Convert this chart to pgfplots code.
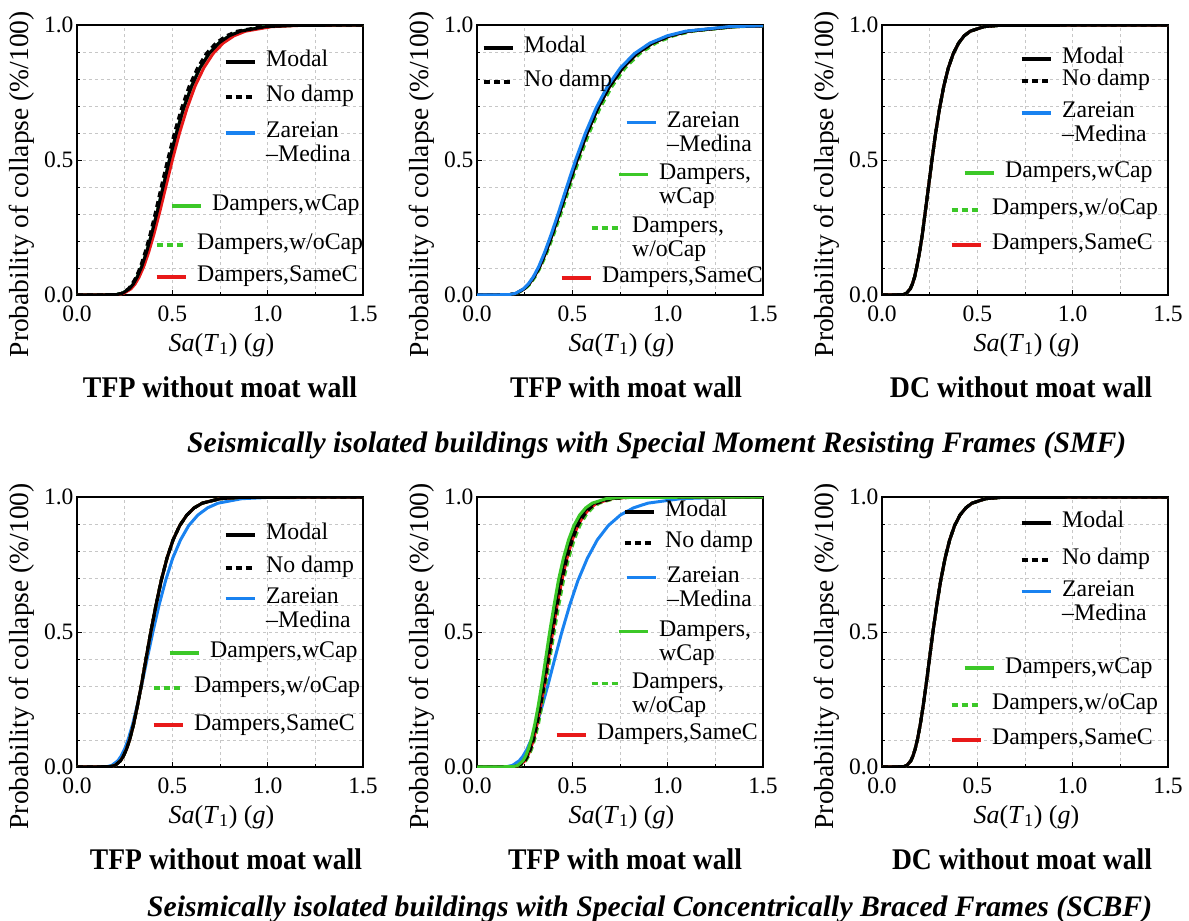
\documentclass[border=0pt]{standalone}
\usepackage{pgfplots}
\pgfplotsset{compat=1.18}
\usepackage{pgfplotstable}
\usepackage{graphicx}
\usepackage{fontspec}
\setmainfont{Liberation Serif}

\definecolor{zblue}{RGB}{25,130,240}
\definecolor{dgreen}{RGB}{60,200,40}
\definecolor{dred}{RGB}{232,25,25}

% Panel 1 (SMF, TFP without moat wall): a = Modal/ZM/wCap/woCap, b = No damp, c = SameC
\pgfplotstableread{
P a b c
0 0 0 0
0.0013 0.206 0.202 0.213
0.0062 0.238 0.233 0.245
0.0228 0.274 0.269 0.283
0.0401 0.295 0.288 0.304
0.0668 0.316 0.310 0.326
0.1056 0.340 0.333 0.350
0.1587 0.365 0.357 0.376
0.2266 0.392 0.384 0.404
0.3085 0.421 0.412 0.434
0.4013 0.452 0.442 0.466
0.5 0.485 0.475 0.500
0.5987 0.521 0.510 0.537
0.6915 0.559 0.548 0.577
0.7734 0.601 0.588 0.619
0.8413 0.645 0.632 0.665
0.8944 0.693 0.678 0.714
0.9332 0.744 0.728 0.767
0.9599 0.799 0.782 0.823
0.9772 0.858 0.840 0.884
0.9938 0.989 0.969 1.020
0.9987 1.140 1.117 1.176
1 1.7 1.7 1.7
}\tabA
% Panel 2 (SMF, TFP with moat wall): a = Modal/NoDamp/wCap/SameC, b = ZM, c = woCap
\pgfplotstableread{
P a b c
0 0 0 0
0.0013 0.170 0.168 0.174
0.0062 0.206 0.202 0.210
0.0228 0.248 0.244 0.253
0.0401 0.272 0.268 0.278
0.0668 0.299 0.295 0.305
0.1056 0.329 0.324 0.335
0.1587 0.361 0.355 0.368
0.2266 0.396 0.390 0.404
0.3085 0.435 0.429 0.444
0.4013 0.478 0.471 0.487
0.5 0.525 0.517 0.535
0.5987 0.577 0.568 0.588
0.6915 0.633 0.624 0.645
0.7734 0.696 0.685 0.709
0.8413 0.764 0.752 0.778
0.8944 0.839 0.826 0.855
0.9332 0.921 0.907 0.939
0.9599 1.012 0.997 1.031
0.9772 1.111 1.094 1.133
0.9938 1.341 1.320 1.366
0.9987 1.617 1.592 1.648
1 1.7 1.7 1.7
}\tabB
% Panel 3 (SMF, DC)
\pgfplotstableread{
P a
0 0
0.0013 0.111
0.0062 0.128
0.0228 0.148
0.0401 0.159
0.0668 0.171
0.1056 0.183
0.1587 0.197
0.2266 0.212
0.3085 0.227
0.4013 0.244
0.5 0.262
0.5987 0.281
0.6915 0.302
0.7734 0.324
0.8413 0.348
0.8944 0.374
0.9332 0.402
0.9599 0.431
0.9772 0.463
0.9938 0.534
0.9987 0.616
1 1.7
}\tabC
% Panel 4 (SCBF, TFP without moat wall): a = Modal etc., b = ZM
\pgfplotstableread{
P a b
0 0 0
0.0013 0.175 0.157
0.0062 0.200 0.183
0.0228 0.228 0.214
0.0401 0.243 0.231
0.0668 0.260 0.250
0.1056 0.278 0.270
0.1587 0.297 0.292
0.2266 0.317 0.315
0.3085 0.339 0.341
0.4013 0.362 0.368
0.5 0.387 0.398
0.5987 0.414 0.430
0.6915 0.442 0.465
0.7734 0.472 0.502
0.8413 0.504 0.543
0.8944 0.539 0.586
0.9332 0.576 0.634
0.9599 0.615 0.685
0.9772 0.657 0.740
0.9938 0.751 0.864
0.9987 0.857 1.009
1 1.7 1.7
}\tabD
% Panel 5 (SCBF, TFP with moat wall): a = wCap, b = Modal, c = NoDamp/SameC, d = woCap, e = ZM
\pgfplotstableread{
P a b c d e
0 0 0 0 0 0
0.0013 0.191 0.194 0.199 0.203 0.156
0.0062 0.214 0.218 0.223 0.228 0.186
0.0228 0.241 0.244 0.251 0.256 0.221
0.0401 0.255 0.259 0.265 0.271 0.241
0.0668 0.270 0.274 0.281 0.287 0.263
0.1056 0.286 0.290 0.298 0.304 0.287
0.1587 0.303 0.307 0.315 0.322 0.314
0.2266 0.321 0.326 0.334 0.341 0.342
0.3085 0.340 0.345 0.354 0.361 0.374
0.4013 0.360 0.365 0.375 0.382 0.408
0.5 0.381 0.387 0.397 0.405 0.445
0.5987 0.404 0.410 0.420 0.429 0.486
0.6915 0.427 0.434 0.445 0.454 0.530
0.7734 0.453 0.460 0.472 0.481 0.579
0.8413 0.480 0.487 0.500 0.510 0.631
0.8944 0.508 0.516 0.529 0.540 0.689
0.9332 0.538 0.546 0.561 0.572 0.752
0.9599 0.570 0.579 0.594 0.606 0.821
0.9772 0.604 0.613 0.629 0.642 0.896
0.9938 0.677 0.688 0.706 0.720 1.068
0.9987 0.760 0.772 0.792 0.807 1.272
1 1.7 1.7 1.7 1.7 1.7
}\tabE
% Panel 6 (SCBF, DC)
\pgfplotstableread{
P a
0 0
0.0013 0.114
0.0062 0.131
0.0228 0.151
0.0401 0.162
0.0668 0.174
0.1056 0.187
0.1587 0.201
0.2266 0.216
0.3085 0.232
0.4013 0.249
0.5 0.267
0.5987 0.287
0.6915 0.308
0.7734 0.331
0.8413 0.355
0.8944 0.381
0.9332 0.409
0.9599 0.440
0.9772 0.472
0.9938 0.544
0.9987 0.628
1 1.7
}\tabF

\pgfplotsset{
  cmodal/.style={black, line width=3pt, line join=round},
  cnod/.style={black, line width=3pt, dash pattern=on 6pt off 4pt},
  czar/.style={zblue, line width=3pt, line join=round},
  cwcap/.style={dgreen, line width=3pt, line join=round},
  cwocap/.style={dgreen, line width=3pt, dash pattern=on 6pt off 4pt},
  csame/.style={dred, line width=3pt, line join=round},
  panel/.style={
    scale only axis, width=286pt, height=270pt,
    xmin=0, xmax=1.5, ymin=0, ymax=1,
    xtick={0,0.5,1,1.5}, ytick={0,0.5,1},
    minor xtick={0.25,0.75,1.25},
    minor ytick={0.1,0.2,0.3,0.4,0.6,0.7,0.8,0.9},
    grid=both,
    major grid style={dashed, black!22, line width=0.6pt},
    minor grid style={dashed, black!22, line width=0.6pt},
    xtick pos=left, ytick pos=left, tick align=inside,
    major tick length=5pt, minor tick length=3pt,
    tick style={black, line width=0.8pt},
    axis line style={line width=1.3pt},
    /pgf/number format/assume math mode=true,
    /pgf/number format/fixed,
    /pgf/number format/fixed zerofill,
    /pgf/number format/precision=1,
    tick label style={font=\fontsize{23.5}{26}\selectfont, inner ysep=0pt},
    xticklabel style={yshift=-11pt},
    ylabel={Probability of collapse (\%/100)},
    xlabel={\textit{Sa}(\textit{T}\textsubscript{1}) (\textit{g})},
    ylabel style={font=\fontsize{27.5}{30}\selectfont, at={(axis description cs:-0.192,0.41)}, anchor=center},
    xlabel style={font=\fontsize{26}{28}\selectfont, at={(axis description cs:0.505,-0.185)}, anchor=center},
    no markers,
  },
  legax/.style={
    hide axis, scale only axis, width=1189pt, height=921pt,
    at={(0pt,0pt)}, anchor=north west,
    xmin=0, xmax=1, ymin=0, ymax=1,
    legend cell align=left,
    legend style={draw=none, fill=none, inner sep=0pt, outer sep=0pt, row sep=5pt,
      font=\fontsize{23.8}{26}\selectfont,
      nodes={inner sep=0pt, text height=14.5pt, text depth=4.5pt}},
    legend image code/.code={\draw[##1, line width=3.4pt] (0pt,0pt) -- (29pt,0pt); \path (39pt,0pt);},
  },
}

\newcommand{\legone}[4]{%
  \pgfmathsetmacro{\lx}{#1/1189}\pgfmathsetmacro{\ly}{1-#2/921}%
  \begin{axis}[legax, legend style={at={(\lx,\ly)}, anchor=west}]
    \addlegendimage{#3}\addlegendentry{#4}
  \end{axis}}
\newcommand{\legtwo}[6]{%
  \pgfmathsetmacro{\lx}{#1/1189}\pgfmathsetmacro{\ly}{1-(#2+#3)/2/921}%
  \begin{axis}[legax, legend style={at={(\lx,\ly)}, anchor=west}]
    \addlegendimage{#4}\addlegendentry{#5}
    \addlegendimage{empty legend}\addlegendentry{#6}
  \end{axis}}

\begin{document}
\begin{tikzpicture}
\useasboundingbox (0pt,0pt) rectangle (1189pt,-921pt);

% ---------- Row 1 ----------
\begin{axis}[panel, at={(77pt,-295pt)}, anchor=south west]
  \addplot[czar] table[x=a,y=P]{\tabA};
  \addplot[cwcap] table[x=a,y=P]{\tabA};
  \addplot[cwocap] table[x=a,y=P]{\tabA};
  \addplot[csame] table[x=c,y=P]{\tabA};
  \addplot[cmodal] table[x=a,y=P]{\tabA};
  \addplot[cnod] table[x=b,y=P]{\tabA};
\end{axis}
\begin{axis}[panel, at={(477pt,-295pt)}, anchor=south west]
  \addplot[cwcap] table[x=a,y=P]{\tabB};
  \addplot[cwocap] table[x=c,y=P]{\tabB};
  \addplot[csame] table[x=a,y=P]{\tabB};
  \addplot[cmodal] table[x=a,y=P]{\tabB};
  \addplot[cnod] table[x=a,y=P]{\tabB};
  \addplot[czar] table[x=b,y=P]{\tabB};
\end{axis}
\begin{axis}[panel, at={(882pt,-295pt)}, anchor=south west]
  \addplot[czar] table[x=a,y=P]{\tabC};
  \addplot[cwcap] table[x=a,y=P]{\tabC};
  \addplot[cwocap] table[x=a,y=P]{\tabC};
  \addplot[csame] table[x=a,y=P]{\tabC};
  \addplot[cmodal] table[x=a,y=P]{\tabC};
  \addplot[cnod] table[x=a,y=P]{\tabC};
\end{axis}

% ---------- Row 2 ----------
\begin{axis}[panel, at={(77pt,-767pt)}, anchor=south west]
  \addplot[czar] table[x=b,y=P]{\tabD};
  \addplot[cwcap] table[x=a,y=P]{\tabD};
  \addplot[cwocap] table[x=a,y=P]{\tabD};
  \addplot[csame] table[x=a,y=P]{\tabD};
  \addplot[cmodal] table[x=a,y=P]{\tabD};
  \addplot[cnod] table[x=a,y=P]{\tabD};
\end{axis}
\begin{axis}[panel, at={(477pt,-767pt)}, anchor=south west]
  \addplot[czar] table[x=e,y=P]{\tabE};
  \addplot[cwocap] table[x=d,y=P]{\tabE};
  \addplot[csame] table[x=c,y=P]{\tabE};
  \addplot[cnod] table[x=c,y=P]{\tabE};
  \addplot[cmodal] table[x=b,y=P]{\tabE};
  \addplot[cwcap] table[x=a,y=P]{\tabE};
\end{axis}
\begin{axis}[panel, at={(882pt,-767pt)}, anchor=south west]
  \addplot[czar] table[x=a,y=P]{\tabF};
  \addplot[cwcap] table[x=a,y=P]{\tabF};
  \addplot[cwocap] table[x=a,y=P]{\tabF};
  \addplot[csame] table[x=a,y=P]{\tabF};
  \addplot[cmodal] table[x=a,y=P]{\tabF};
  \addplot[cnod] table[x=a,y=P]{\tabF};
\end{axis}

% ---------- Legends ----------
% Panel 1
\legone{224}{62}{cmodal}{Modal}
\legone{224}{97}{cnod}{No damp}
\legtwo{224}{133}{157}{czar}{Zareian}{--Medina}
\legone{170}{206}{cwcap}{Dampers,wCap}
\legone{155}{245}{cwocap}{Dampers,w/oCap}
\legone{155}{277}{csame}{Dampers,SameC}
% Panel 2
\legone{482}{48}{cmodal}{Modal}
\legone{482}{82}{cnod}{No damp}
\legtwo{625}{122}{147}{czar}{Zareian}{--Medina}
\legtwo{617}{175}{198}{cwcap}{Dampers,}{wCap}
\legtwo{590}{228}{252}{cwocap}{Dampers,}{w/oCap}
\legone{560}{278}{csame}{Dampers,SameC}
% Panel 3
\legone{1020}{59}{cmodal}{Modal}
\legone{1020}{81}{cnod}{No damp}
\legtwo{1020}{113}{137}{czar}{Zareian}{--Medina}
\legone{963}{173}{cwcap}{Dampers,wCap}
\legone{950}{210}{cwocap}{Dampers,w/oCap}
\legone{950}{245}{csame}{Dampers,SameC}
% Panel 4
\legone{224}{535}{cmodal}{Modal}
\legone{224}{568}{cnod}{No damp}
\legtwo{224}{598}{623}{czar}{Zareian}{--Medina}
\legone{168}{653}{cwcap}{Dampers,wCap}
\legone{152}{688}{cwocap}{Dampers,w/oCap}
\legone{152}{725}{csame}{Dampers,SameC}
% Panel 5
\legone{623}{512}{cmodal}{Modal}
\legone{623}{543}{cnod}{No damp}
\legtwo{625}{577}{602}{czar}{Zareian}{--Medina}
\legtwo{617}{632}{655}{cwcap}{Dampers,}{wCap}
\legtwo{590}{683}{708}{cwocap}{Dampers,}{w/oCap}
\legone{555}{735}{csame}{Dampers,SameC}
% Panel 6
\legone{1020}{523}{cmodal}{Modal}
\legone{1020}{560}{cnod}{No damp}
\legtwo{1020}{592}{615}{czar}{Zareian}{--Medina}
\legone{963}{668}{cwcap}{Dampers,wCap}
\legone{950}{705}{cwocap}{Dampers,w/oCap}
\legone{950}{740}{csame}{Dampers,SameC}

% ---------- Titles ----------
\begin{scope}[every node/.style={anchor=base, inner sep=0pt, font=\bfseries\fontsize{30}{32}\selectfont}]
\node at (220pt,-397pt) {\resizebox{274pt}{\height}{TFP without moat wall}};
\node at (626pt,-397pt) {\resizebox{232pt}{\height}{TFP with moat wall}};
\node at (1021pt,-397pt) {\resizebox{262pt}{\height}{DC without moat wall}};
\node at (226pt,-869pt) {\resizebox{272pt}{\height}{TFP without moat wall}};
\node at (625pt,-869pt) {\resizebox{234pt}{\height}{TFP with moat wall}};
\node at (1022pt,-869pt) {\resizebox{260pt}{\height}{DC without moat wall}};
\end{scope}
\begin{scope}[every node/.style={anchor=base west, inner sep=0pt, font=\bfseries\itshape\fontsize{29.7}{32}\selectfont}]
\node at (187pt,-452pt) {Seismically isolated buildings with Special Moment Resisting Frames (SMF)};
\node at (147pt,-916pt) {Seismically isolated buildings with Special Concentrically Braced Frames (SCBF)};
\end{scope}
\end{tikzpicture}
\end{document}
